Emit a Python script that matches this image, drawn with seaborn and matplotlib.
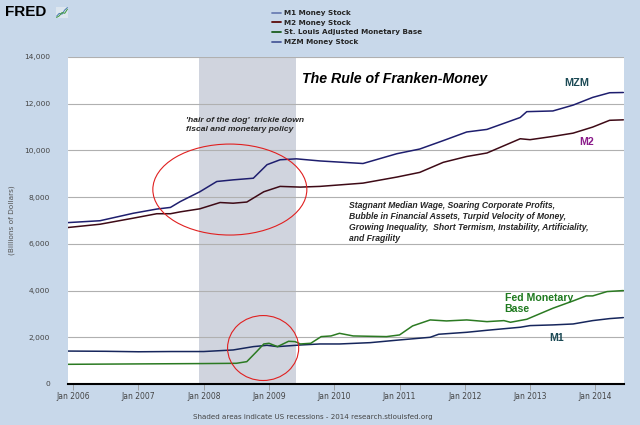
import matplotlib
matplotlib.use("Agg")
import matplotlib.pyplot as plt
import seaborn as sns
import pandas as pd
from matplotlib.patches import Ellipse
from matplotlib.lines import Line2D

# ---------------- data (billions of dollars, x in decimal years) ----------------
mzm_x = [2005.92, 2006.41, 2006.92, 2007.28, 2007.49, 2007.64, 2007.94, 2008.20, 2008.45,
         2008.76, 2008.97, 2009.17, 2009.42, 2009.78, 2010.44, 2010.96, 2011.31, 2011.67,
         2012.03, 2012.34, 2012.85, 2012.95, 2013.35, 2013.66, 2013.96, 2014.22, 2014.43]
mzm_y = [6910, 6990, 7310, 7490, 7560, 7810, 8230, 8670, 8740,
         8810, 9390, 9600, 9640, 9550, 9440, 9860, 10060, 10420,
         10790, 10900, 11410, 11660, 11690, 11940, 12270, 12470, 12480]

m2_x = [2005.92, 2006.41, 2006.92, 2007.28, 2007.49, 2007.64, 2007.94, 2008.25, 2008.45,
        2008.66, 2008.92, 2009.17, 2009.48, 2009.78, 2010.44, 2010.96, 2011.31, 2011.67,
        2012.03, 2012.34, 2012.85, 2013.00, 2013.35, 2013.66, 2013.96, 2014.22, 2014.43]
m2_y = [6700, 6840, 7100, 7290, 7290, 7370, 7500, 7770, 7740,
        7790, 8230, 8460, 8430, 8460, 8600, 8860, 9060, 9490,
        9740, 9890, 10500, 10460, 10600, 10740, 11000, 11290, 11310]

m1_x = [2005.92, 2006.50, 2007.00, 2007.50, 2008.00, 2008.45, 2008.76, 2008.97, 2009.13,
        2009.48, 2009.78, 2010.08, 2010.55, 2011.00, 2011.47, 2011.60, 2012.03, 2012.34,
        2012.85, 2013.00, 2013.35, 2013.66, 2013.96, 2014.22, 2014.43]
m1_y = [1410, 1400, 1380, 1390, 1390, 1457, 1600, 1657, 1600,
        1670, 1714, 1714, 1770, 1886, 2000, 2130, 2214, 2300,
        2430, 2500, 2530, 2570, 2714, 2800, 2843]

base_x = [2005.92, 2007.00, 2008.00, 2008.50, 2008.66, 2008.81, 2008.92, 2009.00, 2009.13,
          2009.30, 2009.40, 2009.48, 2009.64, 2009.80, 2009.95, 2010.08, 2010.29, 2010.80,
          2011.00, 2011.20, 2011.47, 2011.72, 2012.03, 2012.34, 2012.60, 2012.70, 2012.95,
          2013.35, 2013.66, 2013.86, 2013.96, 2014.18, 2014.43]
base_y = [843, 860, 875, 886, 957, 1386, 1714, 1743, 1600,
          1829, 1814, 1714, 1743, 2029, 2057, 2170, 2057, 2029,
          2100, 2486, 2743, 2700, 2743, 2670, 2714, 2643, 2771,
          3243, 3557, 3771, 3771, 3957, 4000]

series_names = ["M1 Money Stock", "M2 Money Stock",
                "St. Louis Adjusted Monetary Base", "MZM Money Stock"]
tick_years = [2006, 2007, 2008, 2009, 2010, 2011, 2012, 2013, 2014]
tick_labels = ["Jan 2006", "Jan 2007", "Jan 2008", "Jan 2009", "Jan 2010",
               "Jan 2011", "Jan 2012", "Jan 2013", "Jan 2014"]
y_ticks = [0, 2000, 4000, 6000, 8000, 10000, 12000, 14000]
recession = (2007.92, 2009.42)

# ---------------- styling ----------------
sns.set_theme(style="white")
plt.rcParams["font.family"] = ["DejaVu Sans"]
BG = "#c8d8ea"

fig = plt.figure(figsize=(6.4, 4.25), dpi=100, facecolor=BG)
ax = fig.add_axes([68/640, 41/425, (624-68)/640, (384-57)/425])
ax.set_facecolor("white")

ax.axvspan(*recession, color="#d0d4de", zorder=0, lw=0)

line_cols = {"M1": "#16265c", "M2": "#3e0a16", "BASE": "#2b7a22", "MZM": "#1e1e6e"}
sns.lineplot(x=m1_x, y=m1_y, ax=ax, color=line_cols["M1"], lw=1.1)
sns.lineplot(x=base_x, y=base_y, ax=ax, color=line_cols["BASE"], lw=1.1)
sns.lineplot(x=m2_x, y=m2_y, ax=ax, color=line_cols["M2"], lw=1.1)
sns.lineplot(x=mzm_x, y=mzm_y, ax=ax, color=line_cols["MZM"], lw=1.1)

ax.set_xlim(2005.92, 2014.44)
ax.set_ylim(0, 14000)
ax.set_yticks(y_ticks)
ax.set_yticklabels([f"{v:,}" for v in y_ticks])
ax.set_xticks(tick_years)
ax.set_xticklabels(tick_labels)
ax.tick_params(axis="x", direction="out", length=4, width=0.6, color="#999999",
               labelsize=5.5, labelcolor="#444444", pad=1.5, bottom=True)
ax.tick_params(axis="y", length=0, labelsize=5.4, labelcolor="#444444", pad=13)
ax.yaxis.grid(True, color="#b0b0b0", lw=0.8)
for g in ax.get_ygridlines():
    g.set_zorder(0.5)
for s in ["top", "right", "left"]:
    ax.spines[s].set_visible(False)
ax.spines["bottom"].set_color("black")
ax.spines["bottom"].set_linewidth(1.5)
ax.set_xlabel("")
ax.set_ylabel("")

fig.text(12/640, 1 - 220/425, "(Billions of Dollars)", rotation=90, ha="center",
         va="center", fontsize=5.3, color="#555555")

# ellipses
ax.add_patch(Ellipse((2008.40, 8325), 2.36, 3895, fill=False, ec="#e02020", lw=0.8, zorder=5))
ax.add_patch(Ellipse((2008.91, 1540), 1.09, 2780, fill=False, ec="#e02020", lw=0.8, zorder=5))

# annotations
af = ["Liberation Sans", "DejaVu Sans"]
ax.text(2009.50, 13060, "The Rule of Franken-Money", family=af, fontsize=10.2,
        fontweight="bold", fontstyle="italic", ha="left", va="center", color="black")
ax.text(2013.53, 12870, "MZM", family=af, fontsize=7.8, fontweight="bold",
        color="#1c4a55", ha="left", va="center")
ax.text(2013.75, 10380, "M2", family=af, fontsize=7.6, fontweight="bold",
        color="#8a1a8a", ha="left", va="center")
ax.text(2007.73, 11420, "'hair of the dog'  trickle down\nfiscal and monetary policy",
        family=af, fontsize=6.1, fontweight="bold", fontstyle="italic",
        ha="left", va="top", linespacing=1.25)
ax.text(2010.23, 7850,
        "Stagnant Median Wage, Soaring Corporate Profits,\n"
        "Bubble in Financial Assets, Turpid Velocity of Money,\n"
        "Growing Inequality,  Short Termism, Instability, Artificiality,\n"
        "and Fragility",
        family=af, fontsize=6.2, fontweight="bold", fontstyle="italic",
        ha="left", va="top", linespacing=1.3)
ax.text(2012.61, 3900, "Fed Monetary\nBase", family=af, fontsize=7.6, fontweight="bold",
        color="#1f7a1f", ha="left", va="top", linespacing=1.15)
ax.text(2013.29, 1960, "M1", family=af, fontsize=7.6, fontweight="bold",
        color="#1c4a55", ha="left", va="center")

# legend
leg_cols = ["#6b7fb4", "#5c0a0a", "#1b5e20", "#4a5a9a"]
handles = [Line2D([], [], color=c, lw=1.3) for c in leg_cols]
fig.legend(handles, series_names, loc="upper left", bbox_to_anchor=(267/640, 1 - 5/425),
           frameon=False, handlelength=1.2, handletextpad=0.5,
           labelspacing=0.5, borderpad=0.2, prop={"weight": "bold", "size": 5.2})

# FRED logo text
fig.text(5/640, 1 - 12.5/425, "FRED", fontsize=11, fontweight="heavy", color="black",
         ha="left", va="center", family=["Liberation Sans", "DejaVu Sans"])
icon = fig.add_axes([56/640, 1 - 18/425, 12/640, 11/425])
icon.set_facecolor("#dde6ef")
icon.plot([0, 1, 2, 3, 4], [0.5, 1.2, 1.0, 2.0, 2.6], color="#4a7ab0", lw=0.7)
icon.plot([0, 1, 2, 3, 4], [0.2, 0.6, 1.4, 1.2, 2.2], color="#3c9a3c", lw=0.7)
icon.set_xticks([]); icon.set_yticks([])
for s in icon.spines.values():
    s.set_visible(False)

# footer
fig.text(313/640, 1 - 417/425,
         "Shaded areas indicate US recessions - 2014 research.stlouisfed.org",
         fontsize=5.1, color="#444444", ha="center", va="center")

fig.savefig("out.png", dpi=100, facecolor=BG)
